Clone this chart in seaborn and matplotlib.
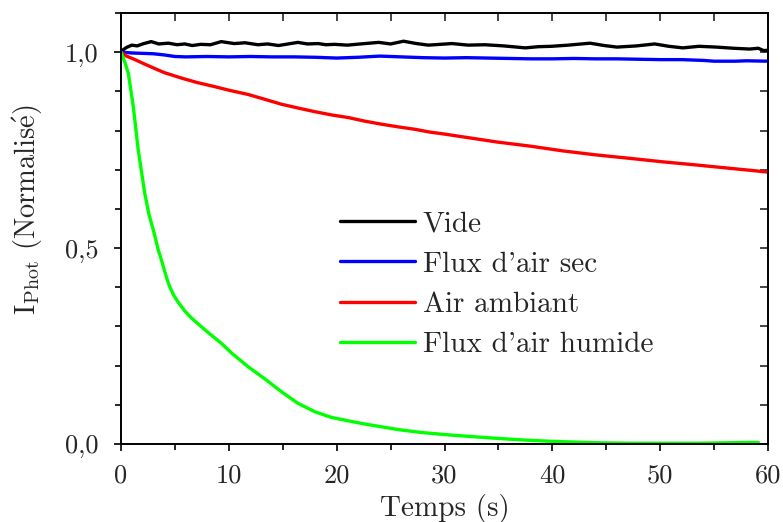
import numpy as np
import pandas as pd
import matplotlib
matplotlib.use("Agg")
import matplotlib.pyplot as plt
import matplotlib.ticker as mticker
import seaborn as sns

# ---------------- data ----------------
t_vide = [0, 0.5, 1, 1.5, 2, 2.8, 3.5, 4.4, 5.2, 5.9, 6.6, 7.4, 8.3, 9.3, 10.0, 10.5,
          11.5, 12.7, 13.6, 14.6, 15.5, 16.4, 17.3, 18.3, 19.0, 19.8, 21, 22.2, 23.9,
          25, 26.2, 27.4, 28.5, 29.6, 30.7, 32.2, 33.75, 35.5, 37.5, 38.7, 39.9, 41.5,
          43.5, 44.8, 46, 47.8, 49.5, 50.8, 52.1, 53.6, 55.2, 56.8, 58.3, 59.1, 59.6, 60]
v_vide = [1.002, 1.012, 1.018, 1.016, 1.021, 1.027, 1.021, 1.023, 1.019, 1.021, 1.017,
          1.020, 1.019, 1.027, 1.024, 1.022, 1.024, 1.019, 1.021, 1.017, 1.021, 1.025,
          1.021, 1.022, 1.019, 1.020, 1.018, 1.021, 1.025, 1.021, 1.028, 1.022, 1.018,
          1.020, 1.022, 1.018, 1.019, 1.016, 1.011, 1.014, 1.015, 1.018, 1.023, 1.017,
          1.013, 1.016, 1.021, 1.015, 1.011, 1.015, 1.013, 1.010, 1.008, 1.010, 1.004, 1.005]

t_sec = [0, 1, 2, 3, 4, 5, 6, 8, 10, 12, 14, 16, 18, 20, 22, 24, 26, 28, 30, 32, 34,
         36, 38, 40, 42, 44, 46, 48, 50, 52, 54, 55, 57, 58, 60]
v_sec = [1.000, 0.998, 0.997, 0.996, 0.993, 0.989, 0.988, 0.989, 0.988, 0.989, 0.988,
         0.988, 0.987, 0.985, 0.987, 0.990, 0.988, 0.986, 0.985, 0.986, 0.985, 0.984,
         0.983, 0.983, 0.984, 0.983, 0.983, 0.982, 0.981, 0.981, 0.979, 0.977, 0.977,
         0.978, 0.977]

t_amb = [0, 0.5, 1.3, 2, 3.15, 4, 5.6, 7, 8.7, 10, 11.8, 13.3, 14.9, 16.5, 18, 19.5,
         21.1, 22.6, 24.2, 25.8, 27.3, 28.65, 30, 32.4, 34.8, 38, 41, 44, 47.2, 50.3,
         53.4, 56.7, 60]
v_amb = [1.0, 0.990, 0.981, 0.972, 0.958, 0.948, 0.934, 0.923, 0.912, 0.903, 0.892,
         0.880, 0.867, 0.857, 0.848, 0.840, 0.833, 0.824, 0.816, 0.809, 0.803, 0.796,
         0.791, 0.781, 0.771, 0.760, 0.748, 0.738, 0.729, 0.720, 0.712, 0.703, 0.694]

t_hum = [0, 0.35, 0.68, 1.14, 1.6, 2.2, 2.6, 3.0, 3.46, 3.8, 4.08, 4.3, 4.54, 4.9, 5.3,
         5.9, 6.55, 7.8, 9.3, 10.3, 11.8, 13.35, 14.9, 16.4, 18, 19.5, 21.1, 22.6, 25.9, 28,
         30.5, 33, 35.1, 37.5, 39.8, 42, 44.4, 47, 49, 53.7, 56, 58.3, 59.1]
v_hum = [1.0, 0.975, 0.946, 0.861, 0.75, 0.64, 0.585, 0.546, 0.495, 0.465, 0.438,
         0.418, 0.400, 0.379, 0.362, 0.340, 0.321, 0.291, 0.257, 0.231, 0.197, 0.166, 0.133,
         0.104, 0.082, 0.068, 0.059, 0.051, 0.036, 0.029, 0.023, 0.018, 0.014, 0.010,
         0.007, 0.005, 0.003, 0.002, 0.002, 0.002, 0.003, 0.004, 0.004]

labels = ["Vide", "Flux d'air sec", "Air ambiant", "Flux d'air humide"]
colors = ["#000000", "#0000ff", "#ff0000", "#00ff00"]

frames = []
for lab, tt, vv in zip(labels, [t_vide, t_sec, t_amb, t_hum], [v_vide, v_sec, v_amb, v_hum]):
    frames.append(pd.DataFrame({"t": tt, "v": vv, "serie": lab}))
df = pd.concat(frames, ignore_index=True)

# ---------------- style ----------------
sns.set_style("ticks")
plt.rcParams["font.family"] = ["cmr10", "DejaVu Serif"]
plt.rcParams["mathtext.fontset"] = "cm"
plt.rcParams["axes.formatter.use_mathtext"] = True
plt.rcParams["axes.unicode_minus"] = False

fig = plt.figure(figsize=(7.83, 5.22), dpi=100)
ax = fig.add_axes([121 / 783, 1 - 444 / 522, (768 - 121) / 783, (444 - 13) / 522])

sns.lineplot(data=df, x="t", y="v", hue="serie", hue_order=labels,
             palette=dict(zip(labels, colors)), linewidth=2.4, ax=ax,
             estimator=None, sort=False, legend=True)

ax.set_xlim(0, 60)
ax.set_ylim(0, 1.1)
ax.xaxis.set_major_locator(mticker.MultipleLocator(10))
ax.xaxis.set_minor_locator(mticker.MultipleLocator(5))
ax.yaxis.set_major_locator(mticker.MultipleLocator(0.5))
ax.yaxis.set_minor_locator(mticker.MultipleLocator(0.1))
ax.yaxis.set_major_formatter(mticker.FuncFormatter(lambda v, p: f"{v:.1f}".replace(".", ",")))
ax.xaxis.set_major_formatter(mticker.FuncFormatter(lambda v, p: f"{v:.0f}"))

for s in ax.spines.values():
    s.set_linewidth(1.4)
    s.set_color("black")

ax.tick_params(which="both", direction="out", top=False, right=False, width=1.2,
               color="black", labelsize=19)
ax.tick_params(axis="x", which="both", pad=9)
ax.tick_params(axis="y", which="both", pad=11)
ax.tick_params(which="major", length=5)
ax.tick_params(which="minor", length=4)

# mirrored inward ticks on top and right
secx = ax.secondary_xaxis("top")
secx.xaxis.set_major_locator(mticker.MultipleLocator(5))
secx.tick_params(direction="in", length=6, width=1.2, labeltop=False)
secx.xaxis.set_major_formatter(mticker.NullFormatter())
secy = ax.secondary_yaxis("right")
secy.yaxis.set_major_locator(mticker.MultipleLocator(0.1))
secy.tick_params(direction="in", length=6, width=1.2, labelright=False)
secy.yaxis.set_major_formatter(mticker.NullFormatter())
for sec in (secx, secy):
    for s in sec.spines.values():
        s.set_visible(False)

ax.set_xlabel("Temps (s)", fontsize=21, labelpad=5)
ax.set_ylabel(r"I$_{\rm Phot}$ (Normalis$\acute{\rm e}$)", fontsize=20.5)
ax.yaxis.set_label_coords(-0.117, (444 - 210) / 431)

leg = ax.legend(loc="center left", bbox_to_anchor=(0.338, 0.37), frameon=False,
                fontsize=21, handlelength=2.57, handletextpad=0.27, labelspacing=0.47,
                borderpad=0, borderaxespad=0)
for line in leg.get_lines():
    line.set_linewidth(2.4)

fig.savefig("out.png", dpi=100)
